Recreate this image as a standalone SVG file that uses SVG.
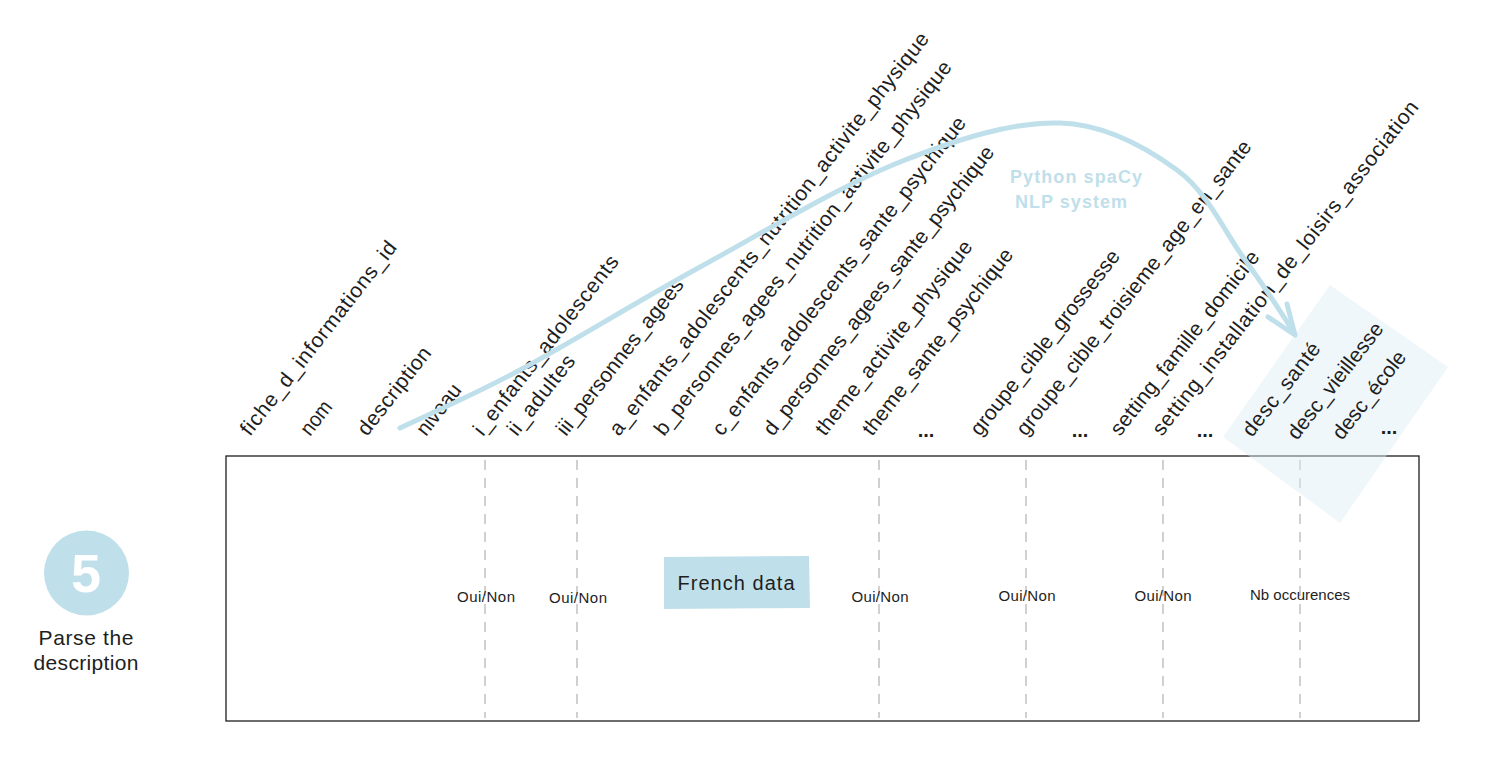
<svg xmlns="http://www.w3.org/2000/svg" width="1504" height="764" viewBox="0 0 1504 764">
<style>
text{font-family:"Liberation Sans","DejaVu Sans",sans-serif;fill:#1e1e1e}
.col{font-size:21px}
.dots{font-size:20px;font-weight:bold;text-anchor:middle}
.val{font-size:15px;text-anchor:middle}
.dash{stroke:#d0d0d0;stroke-width:2;stroke-dasharray:10 8;fill:none}
.blue{fill:#bfe0ea}
.lbl{fill:#bfe0ea;font-size:18px;font-weight:bold;text-anchor:middle}
</style>
<rect width="1504" height="764" fill="#ffffff"/>

<g id="step5">
  <circle cx="86.5" cy="573" r="42.5" class="blue"/>
  <text x="86" y="592" font-size="54" font-weight="bold" text-anchor="middle" style="fill:#ffffff">5</text>
  <text x="86" y="645" font-size="21" text-anchor="middle" textLength="95">Parse the</text>
  <text x="86" y="670" font-size="21" text-anchor="middle" textLength="105">description</text>
</g>

<g id="table">
  <rect x="226" y="456" width="1193" height="265" fill="none" stroke="#1e1e1e" stroke-width="1.3"/>
  <line class="dash" x1="485" y1="460" x2="485" y2="718"/>
  <line class="dash" x1="577" y1="460" x2="577" y2="718"/>
  <line class="dash" x1="879" y1="460" x2="879" y2="718"/>
  <line class="dash" x1="1026" y1="460" x2="1026" y2="718"/>
  <line class="dash" x1="1163" y1="460" x2="1163" y2="718"/>
  <line class="dash" x1="1300" y1="460" x2="1300" y2="718"/>
  <text class="val" x="486" y="602" textLength="58">Oui/Non</text>
  <text class="val" x="578" y="603" textLength="58">Oui/Non</text>
  <text class="val" x="880" y="602" textLength="57">Oui/Non</text>
  <text class="val" x="1027" y="601" textLength="57">Oui/Non</text>
  <text class="val" x="1163" y="601" textLength="57">Oui/Non</text>
  <text class="val" x="1300" y="600" textLength="100">Nb occurences</text>
</g>

<g id="french-data">
  <polygon points="664,557 809,556 810,608 664,609" class="blue"/>
  <text x="736" y="590" font-size="20" text-anchor="middle" textLength="117">French data</text>
</g>

<g id="desc-highlight">
  <polygon points="1330,285 1448,367 1340,523 1223,437" fill="#dcedf5" fill-opacity="0.45"/>
</g>

<g id="columns">
  <text class="col" transform="translate(250,437) rotate(-52)" textLength="240">fiche_d_informations_id</text>
  <text class="col" transform="translate(310,437) rotate(-52)" textLength="38" lengthAdjust="spacingAndGlyphs">nom</text>
  <text class="col" transform="translate(367,437) rotate(-52)" textLength="106">description</text>
  <text class="col" transform="translate(426,437) rotate(-52)" textLength="59" lengthAdjust="spacingAndGlyphs">niveau</text>
  <text class="col" transform="translate(483,437) rotate(-52)" textLength="222">i_enfants_adolescents</text>
  <text class="col" transform="translate(517,437) rotate(-52)" textLength="96">ii_adultes</text>
  <text class="col" transform="translate(566,437) rotate(-52)" textLength="193">iii_personnes_agees</text>
  <text class="col" transform="translate(619,437) rotate(-52)" textLength="505">a_enfants_adolescents_nutrition_activite_physique</text>
  <text class="col" transform="translate(664,437) rotate(-52)" textLength="469">b_personnes_agees_nutrition_activite_physique</text>
  <text class="col" transform="translate(722,437) rotate(-52)" textLength="398">c_enfants_adolescents_sante_psychique</text>
  <text class="col" transform="translate(773,437) rotate(-52)" textLength="361">d_personnes_agees_sante_psychique</text>
  <text class="col" transform="translate(825,437) rotate(-52)" textLength="241">theme_activite_physique</text>
  <text class="col" transform="translate(872,437) rotate(-52)" textLength="231">theme_sante_psychique</text>
  <text class="dots" x="926" y="437">...</text>
  <text class="col" transform="translate(980,437) rotate(-52)" textLength="229">groupe_cible_grossesse</text>
  <text class="col" transform="translate(1026,437) rotate(-52)" textLength="368">groupe_cible_troisieme_age_en_sante</text>
  <text class="dots" x="1080" y="437">...</text>
  <text class="col" transform="translate(1120,437) rotate(-52)" textLength="228">setting_famille_domicile</text>
  <text class="col" transform="translate(1162,437) rotate(-52)" textLength="418">setting_installation_de_loisirs_association</text>
  <text class="dots" x="1205" y="437">...</text>
  <text class="col" transform="translate(1252,438) rotate(-52)" textLength="113">desc_santé</text>
  <text class="col" transform="translate(1297,441) rotate(-52)" textLength="142">desc_vieillesse</text>
  <text class="col" transform="translate(1342,441) rotate(-52)" textLength="106" lengthAdjust="spacingAndGlyphs">desc_école</text>
  <text class="dots" x="1389" y="434">...</text>
</g>

<g id="connectors" fill="none" stroke="#bfe0ea" stroke-linecap="round" stroke-linejoin="round">
  <path stroke-width="5" d="M400,428 C420,418.3 470,396.8 520,370 C570,343.2 636.7,301.7 700,267 C763.3,232.3 840,186 900,162 C960,138 1013.8,121.7 1060,123 C1106.2,124.3 1146.5,147.7 1177,170 C1207.5,192.3 1223.7,230.3 1243,257 C1262.3,283.7 1284.7,317.8 1294,333"/>
  <polyline stroke-width="5" points="1268,317 1295,335 1287,304"/>
  <text class="lbl" x="1076" y="183" stroke="none" textLength="132">Python spaCy</text>
  <text class="lbl" x="1071" y="208" stroke="none" textLength="112">NLP system</text>
</g>
</svg>
